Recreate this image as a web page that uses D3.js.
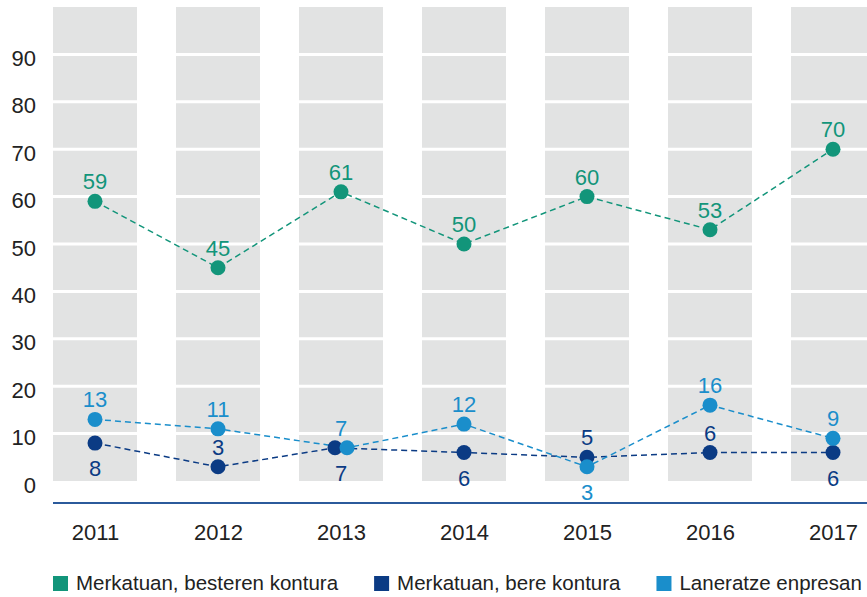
<!DOCTYPE html>
<html>
<head>
<meta charset="utf-8">
<script src="https://cdn.jsdelivr.net/npm/d3@7"></script>
<style>
  body { margin: 0; background: #fff; }
  text { font-family: "Liberation Sans Narrow", "Liberation Sans", Arial, sans-serif; }
</style>
</head>
<body>
<script>
// data
var years = ["2011", "2012", "2013", "2014", "2015", "2016", "2017"];
var seriesNames = ["Merkatuan, besteren kontura", "Merkatuan, bere kontura", "Laneratze enpresan"];
var besteren = [59, 45, 61, 50, 60, 53, 70];
var bere = [8, 3, 7, 6, 5, 6, 6];
var laneratze = [13, 11, 7, 12, 3, 16, 9];
var yTicks = [0, 10, 20, 30, 40, 50, 60, 70, 80, 90];

var colors = ["#12957a", "#0b3b84", "#1a8ecb"];
// label above (-1) or below (1) the dot
var bereLabelSide = [1, -1, 1, 1, -1, -1, 1];
var laneratzeLabelSide = [-1, -1, -1, -1, 1, -1, -1];

var width = 867;
var height = 597;

var svg = d3.select("body")
    .append("svg")
    .attr("width", width)
    .attr("height", height);

// scales
var x = d3.scalePoint().domain(years).range([95, 833]);
var bandWidth = 84;
var y = d3.scaleLinear().domain([0, 100]).range([481, 7]);

// gray columns
svg.append("g").selectAll("rect")
    .data(years)
    .enter()
    .append("rect")
    .attr("x", function (d) { return x(d) - bandWidth / 2; })
    .attr("y", y(100))
    .attr("width", bandWidth)
    .attr("height", y(0) - y(100))
    .attr("fill", "#e2e3e3");

// white grid lines through the columns
svg.append("g").selectAll("line")
    .data(yTicks.filter(function (d) { return d > 0; }))
    .enter()
    .append("line")
    .attr("x1", 40)
    .attr("x2", width)
    .attr("y1", function (d) { return y(d); })
    .attr("y2", function (d) { return y(d); })
    .attr("stroke", "#fff")
    .attr("stroke-width", 3);

// y axis labels
var yAxis = d3.axisLeft(y).tickValues(yTicks).tickSize(0).tickPadding(0);
var yg = svg.append("g")
    .attr("transform", "translate(36,4)")
    .call(yAxis);
yg.select(".domain").remove();
yg.selectAll("text")
    .attr("font-size", 22)
    .attr("fill", "#222")
    .style("font-family", null);

// x axis
var xAxis = d3.axisBottom(x).tickSize(0).tickPadding(0);
var xg = svg.append("g")
    .attr("transform", "translate(0,503)")
    .call(xAxis);
xg.select(".domain").remove();
xg.selectAll("text")
    .attr("font-size", 22)
    .attr("fill", "#222")
    .attr("y", 37)
    .attr("dy", 0)
    .style("font-family", null);
svg.append("line")
    .attr("x1", 53)
    .attr("x2", width)
    .attr("y1", 503)
    .attr("y2", 503)
    .attr("stroke", "#2b5a9b")
    .attr("stroke-width", 2);

// shift coinciding points a little so both show
function offset(i, s) {
    if (s === 0) return 0;
    if (bere[i] === laneratze[i]) return s === 1 ? -6 : 6;
    return 0;
}

var series = [
    { values: besteren, sides: years.map(function () { return -1; }) },
    { values: bere, sides: bereLabelSide },
    { values: laneratze, sides: laneratzeLabelSide }
];

var line = d3.line()
    .x(function (d) { return d.x; })
    .y(function (d) { return d.y; });

series.forEach(function (s, si) {
    var pts = s.values.map(function (v, i) {
        return { x: x(years[i]) + offset(i, si), y: y(v), v: v, side: s.sides[i], cx: x(years[i]) };
    });
    s.pts = pts;
    svg.append("path")
        .datum(pts)
        .attr("d", line)
        .attr("fill", "none")
        .attr("stroke", colors[si])
        .attr("stroke-width", 1.5)
        .attr("stroke-dasharray", "6,4");
});

// dots on top of all lines
series.forEach(function (s, si) {
    svg.append("g").selectAll("circle")
        .data(s.pts)
        .enter()
        .append("circle")
        .attr("cx", function (d) { return d.x; })
        .attr("cy", function (d) { return d.y; })
        .attr("r", 7.5)
        .attr("fill", colors[si]);

    svg.append("g").selectAll("text")
        .data(s.pts)
        .enter()
        .append("text")
        .attr("x", function (d) { return d.cx; })
        .attr("y", function (d) { return d.side < 0 ? d.y - 12 : d.y + 33; })
        .attr("text-anchor", "middle")
        .attr("font-size", 22)
        .attr("fill", colors[si])
        .text(function (d) { return d.v; });
});

// legend (last entry runs off the right edge, as in the original)
var lx = 53;
seriesNames.forEach(function (name, i) {
    var g = svg.append("g").attr("transform", "translate(" + lx + ",576)");
    g.append("rect")
        .attr("width", 15)
        .attr("height", 15)
        .attr("fill", colors[i]);
    var t = g.append("text")
        .attr("x", 23)
        .attr("y", 14)
        .attr("font-size", 20.5)
        .attr("fill", "#222")
        .text(name);
    lx += 23 + t.node().getComputedTextLength() + 36;
});
</script>
</body>
</html>
